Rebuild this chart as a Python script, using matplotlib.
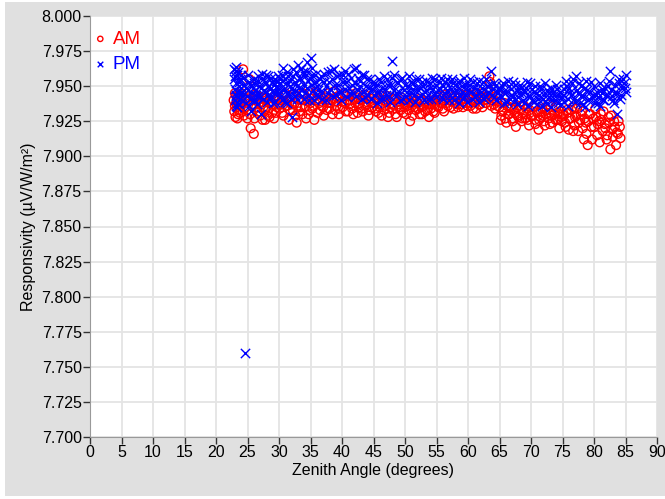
import matplotlib
matplotlib.use("Agg")
import matplotlib.pyplot as plt
from matplotlib.patches import Rectangle

plt.rcParams['font.family'] = ['Liberation Sans', 'DejaVu Sans']

# ---- data ----
pm_x = [22.8,22.9,23.0,23.0,23.1,23.1,23.2,23.2,23.3,23.3,23.4,23.5,23.5,23.6,23.7,23.8,23.9,24.0,
        24.2,24.4,24.6,24.8,25.0,25.2,25.4,25.6,25.8,26.0,26.2,26.4,26.6,26.8,27.0,27.2,27.4,27.6,27.8,28.0,28.2,28.4,28.6,28.8,29.0,29.2,29.4,29.6,29.8,
        30.0,30.2,30.4,30.6,30.8,31.0,31.2,31.4,31.6,31.8,32.0,32.2,32.4,32.6,32.8,33.0,33.2,33.4,33.6,33.8,34.0,34.2,34.4,34.6,34.8,35.0,35.2,35.4,35.6,35.8,
        36.0,36.3,36.6,36.9,37.2,37.5,37.8,38.1,38.4,38.7,39.0,39.3,39.6,39.9,40.2,40.5,40.8,41.1,41.4,41.7,42.0,42.3,42.6,42.9,43.2,43.5,43.8,44.1,44.4,44.7,
        45.0,45.3,45.6,45.9,46.2,46.5,46.8,47.1,47.4,47.7,48.0,48.3,48.6,48.9,49.2,49.5,49.8,50.1,50.4,50.7,51.0,51.3,51.6,51.9,52.2,52.5,52.8,53.1,53.4,53.7,54.0,54.3,54.6,54.9,
        55.2,55.5,55.8,56.1,56.4,56.7,57.0,57.3,57.6,57.9,58.2,58.5,58.8,59.1,59.4,59.7,60.0,60.3,60.6,60.9,61.2,61.5,61.8,62.1,62.4,62.7,63.0,63.3,63.6,63.9,64.2,64.5,64.8,
        65.1,65.4,65.7,66.0,66.3,66.6,66.9,67.2,67.5,67.8,68.1,68.4,68.7,69.0,69.3,69.6,69.9,70.2,70.5,70.8,71.1,71.4,71.7,72.0,72.3,72.6,72.9,73.2,73.5,73.8,74.1,74.4,74.7,
        75.0,75.3,75.6,75.9,76.2,76.5,76.8,77.1,77.4,77.7,78.0,78.3,78.6,78.9,79.2,79.5,79.8,80.1,80.4,80.7,81.0,81.3,81.6,81.9,82.2,82.5,82.8,83.1,83.4,83.7,84.0,84.3,84.6,84.9,85.1]
pm_y = [7.962,7.955,7.948,7.940,7.964,7.936,7.952,7.944,7.958,7.938,7.946,7.960,7.942,7.950,7.937,7.955,7.945,7.949,
        7.943,7.951,7.760,7.938,7.947,7.953,7.941,7.932,7.949,7.955,7.940,7.944,7.957,7.950,7.942,7.930,7.955,7.947,7.953,7.958,7.944,7.950,7.941,7.956,7.946,7.951,7.939,7.954,7.948,
        7.945,7.952,7.940,7.963,7.948,7.955,7.938,7.957,7.944,7.950,7.928,7.962,7.946,7.953,7.941,7.965,7.949,7.956,7.943,7.960,7.951,7.945,7.967,7.954,7.940,7.970,7.958,7.947,7.952,7.944,
        7.950,7.943,7.957,7.946,7.953,7.940,7.960,7.948,7.955,7.962,7.944,7.951,7.958,7.946,7.953,7.961,7.942,7.949,7.956,7.945,7.952,7.963,7.947,7.954,7.941,7.958,7.950,7.944,7.955,7.948,
        7.944,7.950,7.938,7.946,7.953,7.941,7.948,7.955,7.943,7.951,7.968,7.958,7.945,7.952,7.940,7.956,7.947,7.943,7.950,7.957,7.945,7.952,7.939,7.948,7.955,7.943,7.950,7.946,7.954,7.941,7.949,7.956,7.944,7.951,
        7.947,7.953,7.942,7.950,7.945,7.955,7.940,7.948,7.952,7.944,7.950,7.938,7.954,7.946,7.942,7.951,7.947,7.955,7.941,7.949,7.944,7.952,7.939,7.946,7.953,7.943,7.950,7.945,7.961,7.948,7.942,7.951,7.946,
        7.944,7.950,7.938,7.946,7.954,7.941,7.948,7.943,7.951,7.937,7.945,7.949,7.940,7.946,7.953,7.936,7.943,7.948,7.939,7.945,7.941,7.950,7.936,7.944,7.939,7.947,7.942,7.935,7.946,7.940,7.948,7.943,7.937,
        7.944,7.939,7.950,7.936,7.946,7.952,7.941,7.957,7.945,7.938,7.950,7.943,7.935,7.947,7.941,7.953,7.944,7.938,7.946,7.942,7.936,7.948,7.940,7.944,7.950,7.961,7.943,7.938,7.946,7.930,7.952,7.944,7.955,7.949,7.958]

pm_x_more = [23.0,23.1,23.2,23.4,23.6,23.8,24.0,24.1,24.3,24.7,24.9,25.1,25.3,25.5,25.7,25.9,26.1,26.3,26.5,26.7,26.9,27.1,27.3,27.5,27.7,27.9,28.1,28.3,28.5,28.7,28.9,29.1,29.3,29.5,29.7,29.9,
        30.1,30.3,30.5,30.7,30.9,31.1,31.3,31.5,31.7,31.9,32.1,32.3,32.5,32.7,32.9,33.1,33.3,33.5,33.7,33.9,34.1,34.3,34.5,34.7,34.9,35.1,35.3,35.5,35.7,35.9,
        36.2,36.5,36.8,37.1,37.4,37.7,38.0,38.3,38.6,38.9,39.2,39.5,39.8,40.1,40.4,40.7,41.0,41.3,41.6,41.9,42.2,42.5,42.8,43.1,43.4,43.7,44.0,44.3,44.6,44.9,
        45.2,45.5,45.8,46.1,46.4,46.7,47.0,47.3,47.6,47.9,48.2,48.5,48.8,49.1,49.4,49.7,50.0,50.3,50.6,50.9,51.2,51.5,51.8,52.1,52.4,52.7,53.0,53.3,53.6,53.9,54.2,54.5,54.8,
        55.1,55.4,55.7,56.0,56.3,56.6,56.9,57.2,57.5,57.8,58.1,58.4,58.7,59.0,59.3,59.6,59.9,60.2,60.5,60.8,61.1,61.4,61.7,62.0,62.3,62.6,62.9,63.2,63.5,63.8,64.1,64.4,64.7,
        65.0,65.3,65.6,65.9,66.2,66.5,66.8,67.1,67.4,67.7,68.0,68.3,68.6,68.9,69.2,69.5,69.8,70.1,70.4,70.7,71.0,71.3,71.6,71.9,72.2,72.5,72.8,73.1,73.4,73.7,74.0,74.3,74.6,74.9,
        75.2,75.5,75.8,76.1,76.4,76.7,77.0,77.3,77.6,77.9,78.2,78.5,78.8,79.1,79.4,79.7,80.0,80.3,80.6,80.9,81.2,81.5,81.8,82.1,82.4,82.7,83.0,83.3,83.6,83.9,84.2,84.5,84.8,85.0]
pm_y_more = [7.957,7.943,7.961,7.935,7.953,7.941,7.958,7.946,7.956,7.949,7.943,7.958,7.936,7.951,7.945,7.940,7.952,7.947,7.937,7.954,7.944,7.949,7.959,7.941,7.946,7.952,7.939,7.957,7.948,7.943,7.953,7.938,7.955,7.945,7.950,7.957,
        7.955,7.943,7.958,7.947,7.939,7.952,7.960,7.946,7.954,7.941,7.949,7.957,7.943,7.960,7.950,7.945,7.955,7.962,7.948,7.941,7.957,7.961,7.949,7.944,7.956,7.951,7.963,7.940,7.958,7.953,
        7.947,7.955,7.941,7.959,7.950,7.945,7.953,7.961,7.943,7.951,7.957,7.946,7.940,7.958,7.948,7.953,7.959,7.945,7.951,7.962,7.943,7.956,7.950,7.958,7.946,7.942,7.955,7.949,7.941,7.953,
        7.952,7.946,7.955,7.941,7.949,7.957,7.944,7.951,7.939,7.956,7.947,7.943,7.953,7.946,7.955,7.941,7.951,7.946,7.940,7.953,7.948,7.944,7.955,7.942,7.949,7.953,7.940,7.947,7.944,7.952,7.941,7.948,7.955,
        7.943,7.949,7.956,7.941,7.953,7.947,7.951,7.944,7.955,7.940,7.947,7.953,7.943,7.950,7.956,7.944,7.939,7.951,7.946,7.953,7.942,7.948,7.954,7.943,7.949,7.941,7.955,7.946,7.951,7.944,7.952,7.940,7.948,
        7.948,7.942,7.952,7.945,7.939,7.950,7.944,7.953,7.940,7.947,7.942,7.951,7.945,7.938,7.949,7.943,7.952,7.940,7.946,7.950,7.937,7.944,7.948,7.941,7.952,7.938,7.945,7.949,7.940,7.944,7.951,7.938,7.946,7.942,
        7.948,7.954,7.941,7.949,7.944,7.955,7.939,7.947,7.952,7.943,7.937,7.949,7.954,7.940,7.946,7.942,7.950,7.944,7.938,7.952,7.945,7.940,7.949,7.943,7.954,7.947,7.940,7.951,7.945,7.955,7.941,7.949,7.952,7.946]

am_x = [22.8,22.9,23.0,23.1,23.2,23.3,23.4,23.5,23.6,23.7,23.8,23.9,24.0,
        24.3,24.5,24.8,25.0,25.3,25.5,25.8,26.0,26.2,26.5,26.8,27.0,27.3,27.5,27.8,28.0,28.3,28.5,28.8,29.0,29.3,29.5,29.8,
        30.1,30.4,30.7,31.0,31.3,31.6,31.9,32.2,32.5,32.8,33.1,33.4,33.7,34.0,34.3,34.6,34.9,35.2,35.5,35.8,36.1,36.4,36.7,37.0,37.3,37.6,37.9,38.2,38.5,38.8,39.1,39.4,39.7,40.0,40.3,40.6,40.9,41.2,41.5,41.8,42.1,42.4,42.7,43.0,43.3,43.6,43.9,44.2,44.5,44.8,
        45.1,45.4,45.7,46.0,46.3,46.6,46.9,47.2,47.5,47.8,48.1,48.4,48.7,49.0,49.3,49.6,49.9,50.2,50.5,50.8,51.1,51.4,51.7,52.0,52.3,52.6,52.9,53.2,53.5,53.8,54.1,54.4,54.7,
        55.0,55.3,55.6,55.9,56.2,56.5,56.8,57.1,57.4,57.7,58.0,58.3,58.6,58.9,59.2,59.5,59.8,60.1,60.4,60.7,61.0,61.3,61.6,61.9,62.2,62.5,62.8,63.1,63.4,63.7,64.0,64.3,64.6,64.9,
        65.2,65.5,65.8,66.1,66.4,66.7,67.0,67.3,67.6,67.9,68.2,68.5,68.8,69.1,69.4,69.7,70.0,70.3,70.6,70.9,71.2,71.5,71.8,72.1,72.4,72.7,73.0,73.3,73.6,73.9,74.2,74.5,74.8,
        75.1,75.4,75.7,76.0,76.3,76.6,76.9,77.2,77.5,77.8,78.1,78.4,78.7,79.0,79.3,79.6,79.9,80.2,80.5,80.8,81.1,81.4,81.7,82.0,82.3,82.6,82.9,83.2,83.5,83.8,84.1]
am_y = [7.940,7.932,7.945,7.928,7.938,7.935,7.942,7.930,7.937,7.944,7.933,7.939,7.936,
        7.962,7.934,7.941,7.927,7.955,7.920,7.937,7.916,7.944,7.931,7.938,7.929,7.942,7.935,7.926,7.940,7.933,7.928,7.939,7.936,7.943,7.931,7.937,
        7.934,7.940,7.929,7.945,7.936,7.926,7.942,7.933,7.938,7.924,7.941,7.935,7.930,7.944,7.927,7.939,7.933,7.941,7.936,7.946,7.931,7.938,7.942,7.935,7.940,7.933,7.945,7.938,7.930,7.941,7.936,7.943,7.934,7.939,7.945,7.932,7.940,7.937,7.944,7.930,7.938,7.942,7.935,7.940,7.932,7.944,7.937,7.929,7.941,7.935,
        7.938,7.932,7.942,7.935,7.929,7.940,7.936,7.943,7.931,7.938,7.934,7.941,7.928,7.937,7.933,7.940,7.935,7.930,7.938,7.925,7.936,7.941,7.933,7.938,7.930,7.935,7.940,7.932,7.937,7.928,7.934,7.939,7.931,
        7.940,7.935,7.943,7.938,7.932,7.941,7.936,7.944,7.939,7.934,7.942,7.937,7.945,7.940,7.935,7.943,7.938,7.941,7.936,7.944,7.939,7.934,7.942,7.937,7.945,7.940,7.938,7.943,7.957,7.936,7.941,7.934,7.939,7.944,
        7.926,7.932,7.938,7.924,7.930,7.935,7.927,7.933,7.921,7.929,7.936,7.925,7.931,7.927,7.934,7.922,7.929,7.935,7.926,7.932,7.919,7.928,7.934,7.925,7.930,7.937,7.923,7.929,7.933,7.926,7.931,7.920,7.928,
        7.930,7.924,7.933,7.919,7.927,7.935,7.922,7.929,7.918,7.926,7.932,7.912,7.924,7.908,7.930,7.921,7.927,7.934,7.915,7.925,7.930,7.918,7.923,7.912,7.928,7.905,7.919,7.925,7.908,7.916,7.921]

am_x_more = [23.0,23.2,23.4,23.6,23.8,24.1,24.4,24.6,24.9,25.1,25.4,25.7,25.9,26.1,26.4,26.7,26.9,27.2,27.4,27.7,27.9,28.2,28.4,28.7,28.9,29.2,29.4,29.7,29.9,
        30.2,30.5,30.8,31.1,31.4,31.7,32.0,32.3,32.6,32.9,33.2,33.5,33.8,34.1,34.4,34.7,35.0,35.3,35.6,35.9,36.2,36.5,36.8,37.1,37.4,37.7,38.0,38.3,38.6,38.9,39.2,39.5,39.8,40.1,40.4,40.7,41.0,41.3,41.6,41.9,42.2,42.5,42.8,43.1,43.4,43.7,44.0,44.3,44.6,44.9,
        45.2,45.5,45.8,46.1,46.4,46.7,47.0,47.3,47.6,47.9,48.2,48.5,48.8,49.1,49.4,49.7,50.0,50.3,50.6,50.9,51.2,51.5,51.8,52.1,52.4,52.7,53.0,53.3,53.6,53.9,54.2,54.5,54.8,
        55.1,55.4,55.7,56.0,56.3,56.6,56.9,57.2,57.5,57.8,58.1,58.4,58.7,59.0,59.3,59.6,59.9,60.2,60.5,60.8,61.1,61.4,61.7,62.0,62.3,62.6,62.9,63.2,63.5,63.8,64.1,64.4,64.7,
        65.0,65.3,65.6,65.9,66.2,66.5,66.8,67.1,67.4,67.7,68.0,68.3,68.6,68.9,69.2,69.5,69.8,70.1,70.4,70.7,71.0,71.3,71.6,71.9,72.2,72.5,72.8,73.1,73.4,73.7,74.0,74.3,74.6,74.9,
        75.2,75.5,75.8,76.1,76.4,76.7,77.0,77.3,77.6,77.9,78.2,78.5,78.8,79.1,79.4,79.7,80.0,80.3,80.6,80.9,81.2,81.5,81.8,82.1,82.4,82.7,83.0,83.3,83.6,83.9,84.2]
am_y_more = [7.936,7.943,7.927,7.940,7.931,7.945,7.929,7.938,7.933,7.942,7.930,7.936,7.940,7.927,7.935,7.943,7.932,7.937,7.926,7.941,7.934,7.929,7.938,7.944,7.931,7.927,7.940,7.935,7.942,
        7.938,7.931,7.943,7.936,7.940,7.933,7.937,7.944,7.929,7.936,7.932,7.940,7.945,7.935,7.941,7.930,7.938,7.934,7.926,7.940,7.944,7.933,7.936,7.929,7.942,7.938,7.934,7.941,7.946,7.933,7.939,7.930,7.942,7.935,7.938,7.943,7.932,7.940,7.934,7.941,7.945,7.931,7.938,7.934,7.942,7.936,7.941,7.933,7.938,7.944,
        7.934,7.940,7.931,7.937,7.943,7.933,7.939,7.928,7.935,7.941,7.937,7.930,7.939,7.935,7.942,7.931,7.937,7.940,7.933,7.938,7.929,7.935,7.939,7.934,7.941,7.930,7.936,7.939,7.933,7.940,7.937,7.932,7.938,
        7.936,7.942,7.938,7.934,7.944,7.938,7.940,7.935,7.939,7.943,7.938,7.935,7.942,7.937,7.939,7.944,7.936,7.942,7.938,7.934,7.940,7.945,7.937,7.941,7.935,7.942,7.938,7.946,7.953,7.940,7.937,7.943,7.936,
        7.935,7.929,7.933,7.927,7.936,7.930,7.934,7.925,7.931,7.935,7.928,7.933,7.927,7.936,7.930,7.926,7.933,7.929,7.935,7.923,7.931,7.926,7.932,7.929,7.922,7.933,7.927,7.931,7.924,7.930,7.935,7.926,7.932,7.925,
        7.929,7.921,7.931,7.927,7.933,7.918,7.928,7.934,7.924,7.930,7.920,7.927,7.916,7.925,7.930,7.912,7.921,7.928,7.923,7.910,7.926,7.932,7.920,7.915,7.924,7.929,7.914,7.921,7.917,7.925,7.913]

x_ticks = list(range(0, 91, 5))
y_ticks = [7.700, 7.725, 7.750, 7.775, 7.800, 7.825, 7.850, 7.875, 7.900, 7.925, 7.950, 7.975, 8.000]

# ---- figure ----
fig = plt.figure(figsize=(6.65, 4.99), dpi=100, facecolor='white')
fig.patches.append(Rectangle((5/665, 3/499), 660/665, 494/499, transform=fig.transFigure,
                             facecolor='#e0e0e0', edgecolor='none', zorder=-10))
ax = fig.add_axes([90/665, 1 - 437/499, 567/665, 421/499])
ax.set_facecolor('white')

ax.scatter(am_x + am_x_more, am_y + am_y_more, s=40, facecolors='none', edgecolors='#ff0000',
           linewidths=1.0, marker='o', label='AM', zorder=3)
ax.scatter(pm_x + pm_x_more, pm_y + pm_y_more, s=45, c='#0000ff', linewidths=1.0,
           marker='x', label='PM', zorder=4)

ax.set_xlim(0, 90)
ax.set_ylim(7.700, 8.000)
ax.set_xticks(x_ticks)
ax.set_yticks(y_ticks)
ax.set_xticklabels([str(t) for t in x_ticks])
ax.set_yticklabels(['%.3f' % t for t in y_ticks])
ax.grid(True, color='#e4e4e4', linewidth=1.3)
ax.set_axisbelow(True)
for s in ['top', 'right']:
    ax.spines[s].set_visible(False)
ax.spines['left'].set_color('#999999')
ax.spines['bottom'].set_color('#999999')
ax.tick_params(axis='both', direction='out', length=5, width=1, color='#333333',
               labelsize=11.5, labelcolor='black', pad=1)

ax.set_xlabel('Zenith Angle (degrees)', fontsize=11.5, labelpad=2)
ax.set_ylabel('Responsivity (µV/W/m²)', fontsize=11.5, labelpad=4)

leg = ax.legend(loc='upper left', bbox_to_anchor=(-0.005, 0.983), frameon=False,
                fontsize=13.5, handletextpad=0.35, handlelength=0.6, borderpad=0.2,
                borderaxespad=0.2, labelspacing=0.45, markerscale=0.6)
for t, c in zip(leg.get_texts(), ['#ff0000', '#0000ff']):
    t.set_color(c)

fig.savefig('out.png', dpi=100, facecolor=fig.get_facecolor())
